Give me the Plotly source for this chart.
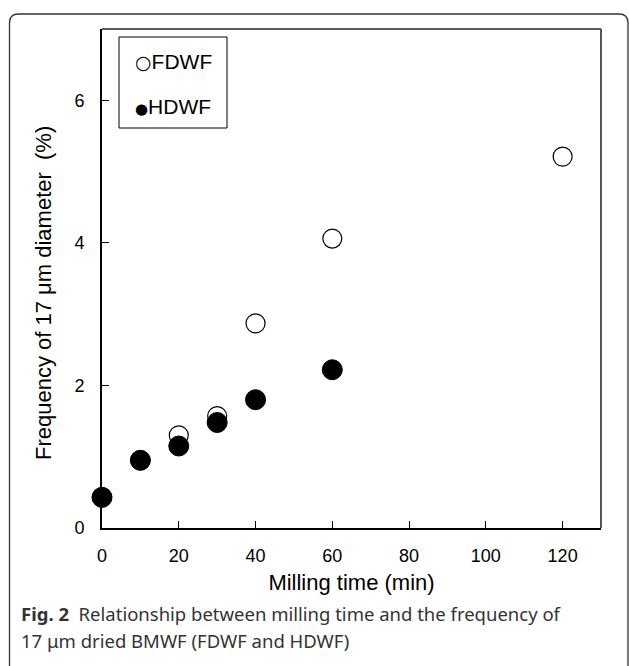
import plotly.graph_objects as go

milling_time = [0, 10, 20, 30, 40, 60, 120]
fdwf = [0.43, 0.95, 1.30, 1.57, 2.87, 4.06, 5.21]
hdwf_time = [0, 10, 20, 30, 40, 60]
hdwf = [0.43, 0.95, 1.15, 1.48, 1.80, 2.22]
x_ticks = [0, 20, 40, 60, 80, 100, 120]
y_ticks = [0, 2, 4, 6]
series_names = ["FDWF", "HDWF"]

W, H = 629, 666
L, R, T, B = 102, 601, 29, 528
pw, ph = R - L, B - T

def px(xp):
    return (xp - L) / pw

def py(yp):
    return (B - yp) / ph

fig = go.Figure()
fig.add_trace(go.Scatter(
    x=milling_time, y=fdwf, mode="markers", name=series_names[0], cliponaxis=False,
    marker=dict(symbol="circle", size=19, color="white", line=dict(color="black", width=1.2)),
))
fig.add_trace(go.Scatter(
    x=hdwf_time, y=hdwf, mode="markers", name=series_names[1], cliponaxis=False,
    marker=dict(symbol="circle", size=20, color="black", line=dict(color="black", width=1)),
))

font_axis = dict(family="Liberation Sans, Arial, sans-serif", size=18, color="black")
font_title = dict(family="Liberation Sans, Arial, sans-serif", size=22, color="black")

fig.update_layout(
    width=W, height=H,
    margin=dict(l=L, r=W - R, t=T, b=H - B, autoexpand=False),
    paper_bgcolor="white", plot_bgcolor="white",
    font=font_axis,
    showlegend=False,
    xaxis=dict(
        range=[0, 130], tickvals=x_ticks, ticks="inside", ticklen=7, tickwidth=1,
        tickcolor="black", showline=True, linecolor="black", linewidth=2,
        showgrid=False, zeroline=False, tickfont=font_axis, ticklabelstandoff=10,
        title=dict(text="Milling time (min)", font=font_title, standoff=10),
    ),
    yaxis=dict(
        range=[0, 7], tickvals=y_ticks, ticks="inside", ticklen=7, tickwidth=1,
        tickcolor="black", showline=True, linecolor="black", linewidth=2,
        showgrid=False, zeroline=False, tickfont=font_axis, ticklabelstandoff=12,
    ),
)

# y-axis title (placed slightly below the plot centre, as in the original)
fig.add_annotation(xref="paper", yref="paper", x=px(43), y=py(293), xanchor="center",
                   yanchor="middle", textangle=-90, showarrow=False, font=font_title,
                   text="Frequency of 17 μm diameter  (%)")

# top and right borders of the plot box
fig.add_shape(type="line", xref="paper", yref="paper", x0=0, x1=1, y0=1, y1=1,
              line=dict(color="#222", width=1.5))
fig.add_shape(type="line", xref="paper", yref="paper", x0=1, x1=1, y0=0, y1=1,
              line=dict(color="#555", width=2))

# legend box (drawn like the original Excel-style legend)
fig.add_shape(type="rect", xref="paper", yref="paper",
              x0=px(119), x1=px(227), y0=py(128), y1=py(37),
              line=dict(color="black", width=1), fillcolor="white", layer="above")
glyphs = ["○", "●"]
glyph_sizes = [19, 15]
legend_y = [62, 106]
for g, gs, nm, yy in zip(glyphs, glyph_sizes, series_names, legend_y):
    fig.add_annotation(xref="paper", yref="paper", x=px(133), y=py(yy),
                       xanchor="left", yanchor="middle", showarrow=False,
                       font=dict(family="Liberation Sans, Arial, sans-serif", size=21, color="black"),
                       text=f"<span style='font-family:DejaVu Sans;font-size:{gs}px'>{g}</span>{nm}")

# outer rounded frame
x0, x1 = px(9.5), px(628)
y0, y1 = py(14), py(672)
rx, ry = 9 / pw, 9 / ph
path = (f"M {x0},{y1} L {x0},{y0 - ry} Q {x0},{y0} {x0 + rx},{y0} "
        f"L {x1 - rx},{y0} Q {x1},{y0} {x1},{y0 - ry} L {x1},{y1}")
fig.add_shape(type="path", xref="paper", yref="paper", path=path,
              line=dict(color="#333", width=1.3))

cap_font = dict(family="Noto Sans, Open Sans, sans-serif", size=18.5, color="#333")
fig.add_annotation(xref="paper", yref="paper", x=px(19), y=py(613), xanchor="left", yanchor="middle",
                   showarrow=False, font=cap_font,
                   text="<b>Fig. 2</b>  Relationship between milling time and the frequency of")
fig.add_annotation(xref="paper", yref="paper", x=px(19), y=py(640), xanchor="left", yanchor="middle",
                   showarrow=False, font=cap_font,
                   text="17 μm dried BMWF (FDWF and HDWF)")

fig.write_html("out.html", config={"displayModeBar": False},
               post_script="document.body.style.margin='0';")
